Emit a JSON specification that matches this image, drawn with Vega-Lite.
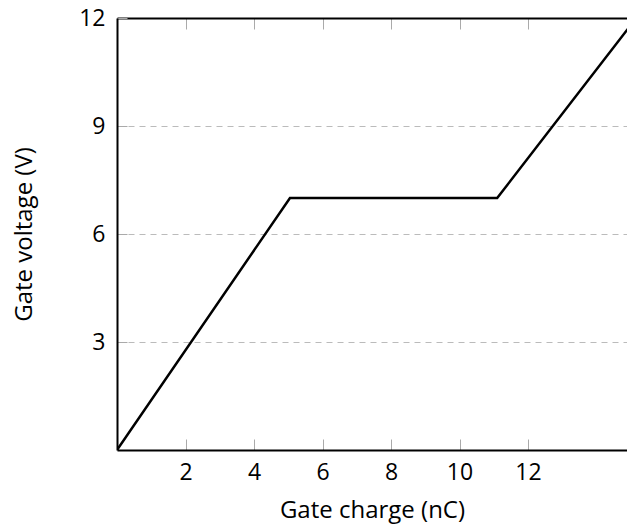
{
  "$schema": "https://vega.github.io/schema/vega-lite/v6.json",
  "autosize": "none",
  "padding": {"left": 117, "top": 18, "right": 0, "bottom": 79},
  "width": 510,
  "height": 432,
  "config": {
    "view": {"stroke": null},
    "font": "Open Sans",
    "axis": {
      "labelFont": "Open Sans",
      "titleFont": "Open Sans",
      "labelFontSize": 23,
      "titleFontSize": 24,
      "labelColor": "#000",
      "titleColor": "#000",
      "titleFontWeight": "normal",
      "domainColor": "#000",
      "domainWidth": 2,
      "tickColor": "#aaaaaa",
      "tickWidth": 1
    }
  },
  "data": {
    "values": [
      {"q": 0, "v": 0},
      {"q": 5.05, "v": 7},
      {"q": 11.1, "v": 7},
      {"q": 15, "v": 11.8}
    ]
  },
  "layer": [
    {
      "mark": {"type": "line", "color": "#000", "strokeWidth": 2.5, "clip": true},
      "encoding": {
        "x": {
          "field": "q", "type": "quantitative",
          "scale": {"domain": [0, 14.89], "nice": false, "zero": false},
          "axis": {
            "orient": "bottom", "values": [2, 4, 6, 8, 10, 12], "grid": false,
            "tickSize": -11, "labelPadding": 22,
            "title": "Gate charge (nC)", "titlePadding": 14
          }
        },
        "y": {
          "field": "v", "type": "quantitative",
          "scale": {"domain": [0, 12], "nice": false},
          "axis": {
            "values": [3, 6, 9, 12], "grid": true, "gridDash": [6, 5], "gridColor": "#bbbbbb",
            "tickSize": -10, "labelPadding": 22,
            "title": "Gate voltage (V)", "titlePadding": 42
          }
        }
      }
    },
    {
      "mark": {"type": "line", "opacity": 0, "clip": true},
      "encoding": {
        "x": {
          "field": "q", "type": "quantitative",
          "axis": {
            "orient": "top", "values": [2, 4, 6, 8, 10, 12], "grid": false,
            "tickSize": -11, "labels": false, "title": null
          }
        },
        "y": {"field": "v", "type": "quantitative", "axis": null}
      }
    }
  ],
  "resolve": {"axis": {"x": "independent", "y": "independent"}}
}
